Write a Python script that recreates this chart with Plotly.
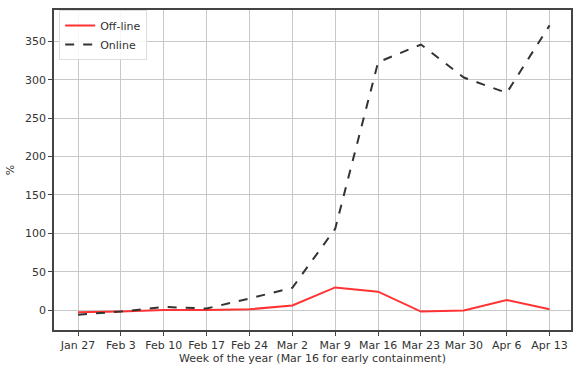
import plotly.graph_objects as go

weeks = ["Jan 27", "Feb 3", "Feb 10", "Feb 17", "Feb 24", "Mar 2", "Mar 9",
         "Mar 16", "Mar 23", "Mar 30", "Apr 6", "Apr 13"]
offline = [-3, -2, 0, 0, 1, 6, 29.5, 24, -2, -0.5, 13, 1]
online = [-6, -2, 4, 2, 15, 29, 106, 323, 346, 303, 283, 371]
y_ticks = [0, 50, 100, 150, 200, 250, 300, 350]

fig = go.Figure()
fig.add_trace(go.Scatter(x=list(range(len(weeks))), y=offline, mode="lines", name="Off-line",
                         line=dict(color="#ff3333", width=2)))
fig.add_trace(go.Scatter(x=list(range(len(weeks))), y=online, mode="lines", name="Online",
                         line=dict(color="#333333", width=2, dash="dash")))

font = "DejaVu Sans, sans-serif"
fig.update_layout(
    width=575, height=365,
    margin=dict(l=54, r=2, t=10, b=35),
    paper_bgcolor="white", plot_bgcolor="white",
    font=dict(family=font, size=11, color="#333333"),
    showlegend=True,
    legend=dict(x=0.01, y=1.0, xanchor="left", yanchor="top",
                bgcolor="rgba(255,255,255,0.85)", bordercolor="#dddddd", borderwidth=1,
                font=dict(size=11), tracegroupgap=0, itemwidth=30),
    xaxis=dict(
        tickmode="array", tickvals=list(range(len(weeks))), ticktext=weeks,
        range=[-0.56, 11.5], showgrid=True, gridcolor="#c8c8c8", gridwidth=1,
        showline=True, linecolor="#444444", linewidth=1.5, mirror=True,
        ticks="outside", ticklen=4, tickcolor="#444444", zeroline=False,
        title=dict(text="Week of the year (Mar 16 for early containment)", standoff=2,
                   font=dict(size=11)),
    ),
    yaxis=dict(
        tickmode="array", tickvals=y_ticks, range=[-26, 391],
        showgrid=True, gridcolor="#c8c8c8", gridwidth=1,
        showline=True, linecolor="#444444", linewidth=1.5, mirror=True,
        ticks="outside", ticklen=4, tickcolor="#444444", zeroline=False,
        title=dict(text="%", standoff=8, font=dict(size=11)),
    ),
)
fig.write_html("out.html")
